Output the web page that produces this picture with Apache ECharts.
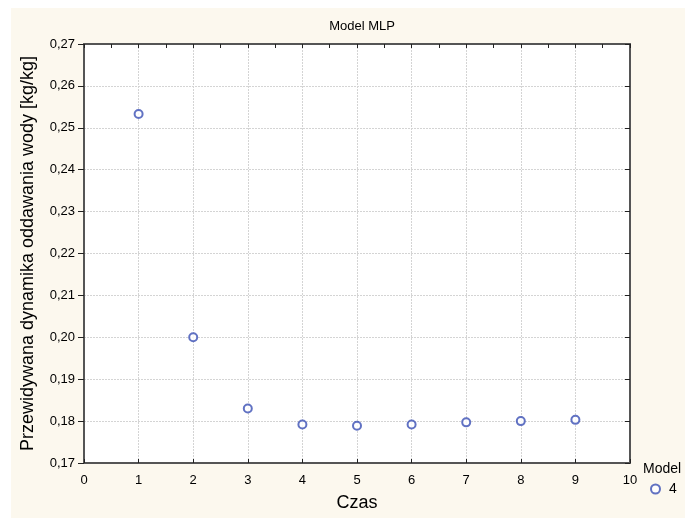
<!DOCTYPE html>
<html><head><meta charset="utf-8">
<script src="https://cdn.jsdelivr.net/npm/echarts@6/dist/echarts.min.js"></script>
<style>html,body{margin:0;padding:0;background:#fff}#c{width:696px;height:518px}</style>
</head><body><div id="c"></div>
<script>
const czas = [1, 2, 3, 4, 5, 6, 7, 8, 9];
const predicted = [0.2533, 0.2000, 0.1830, 0.1792, 0.1789, 0.1792, 0.1797, 0.1800, 0.1803];
const title = 'Model MLP';
const xName = 'Czas';
const yName = 'Przewidywana dynamika oddawania wody [kg/kg]';
const legendTitle = 'Model';
const seriesName = '4';

const F = 'Liberation Sans, Arial, sans-serif';
const BLUE = '#3A4FB4';
const chart = echarts.init(document.getElementById('c'));
const fmt = v => v.toFixed(2).replace('.', ',');
chart.setOption({
  animation: false,
  backgroundColor: '#ffffff',
  graphic: [
    {type: 'rect', z: -10, shape: {x: 11, y: 8, width: 674, height: 510}, style: {fill: '#FCF8EE'}},
    {type: 'text', left: 643, top: 462, style: {text: legendTitle, font: '14px ' + F, fill: '#000'}}
  ],
  title: {text: title, left: 357, textAlign: 'center', top: 15, textStyle: {fontFamily: F, fontSize: 13, fontWeight: 'normal', color: '#000'}},
  legend: {left: 650, top: 482, padding: 0, itemWidth: 9, itemHeight: 9,
    textStyle: {fontFamily: F, fontSize: 14, color: '#000', padding: [0, 0, 0, 4]},
    data: [{name: seriesName, icon: 'emptyCircle', itemStyle: {color: BLUE, borderColor: BLUE, borderWidth: 1.2}}]},
  grid: {left: 84, right: 66, top: 44, bottom: 55, show: true, backgroundColor: '#ffffff', borderWidth: 0},
  xAxis: [{
    type: 'value', min: 0, max: 10, interval: 1, position: 'bottom',
    name: xName, nameLocation: 'middle', nameGap: 31,
    nameTextStyle: {fontFamily: F, fontSize: 18, color: '#000'},
    axisLine: {show: true, onZero: false, lineStyle: {color: '#555', width: 2}},
    axisTick: {show: true, inside: true, length: 4, lineStyle: {color: '#222'}},
    axisLabel: {fontFamily: F, fontSize: 13, color: '#000', margin: 11},
    splitLine: {show: true, lineStyle: {color: '#d4d4d4', type: [2, 1], width: 1}}
  }, {
    type: 'value', min: 0, max: 10, interval: 1, position: 'top',
    axisLine: {show: true, onZero: false, lineStyle: {color: '#555', width: 2}},
    axisTick: {show: true, inside: true, length: 4, lineStyle: {color: '#222'}},
    minorTick: {show: true, splitNumber: 2, length: 4, lineStyle: {color: '#222'}},
    axisLabel: {show: false}, splitLine: {show: false}
  }],
  yAxis: [{
    type: 'value', min: 0.17, max: 0.27, interval: 0.01, position: 'left',
    name: yName, nameLocation: 'middle', nameGap: 47,
    nameTextStyle: {fontFamily: F, fontSize: 18, color: '#000'},
    axisLine: {show: true, onZero: false, lineStyle: {color: '#555', width: 2}},
    axisTick: {show: true, inside: false, length: 6, lineStyle: {color: '#222'}},
    axisLabel: {fontFamily: F, fontSize: 13, color: '#000', margin: 9, formatter: fmt},
    splitLine: {show: true, lineStyle: {color: '#d4d4d4', type: [2, 1], width: 1}}
  }, {
    type: 'value', min: 0.17, max: 0.27, interval: 0.01, position: 'right',
    axisLine: {show: true, onZero: false, lineStyle: {color: '#555', width: 2}},
    axisTick: {show: true, inside: true, length: 5, lineStyle: {color: '#222'}},
    axisLabel: {show: false}, splitLine: {show: false}
  }],
  series: [{
    name: seriesName, type: 'scatter', xAxisIndex: 0, yAxisIndex: 0,
    symbol: 'emptyCircle', symbolSize: 8,
    itemStyle: {color: BLUE, borderColor: BLUE, borderWidth: 1.2},
    data: czas.map((x, i) => [x, predicted[i]])
  }]
});
</script></body></html>
